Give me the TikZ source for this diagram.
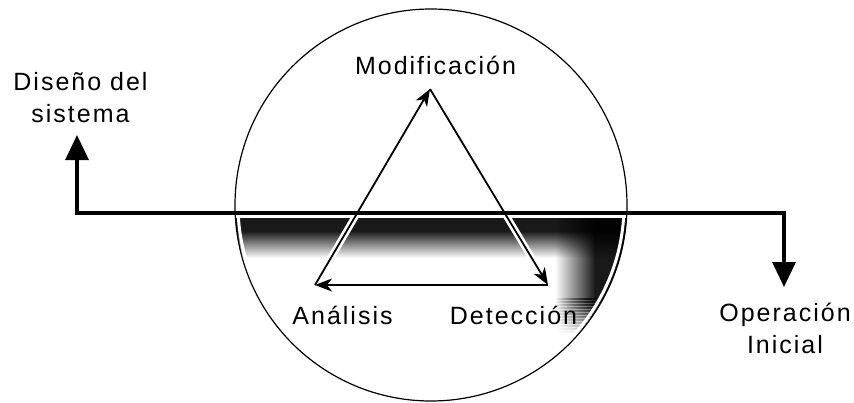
\documentclass[tikz,border=0pt]{standalone}
\usepackage{fontspec}
\newfontfamily\rotulo{Liberation Sans}[LetterSpace=8]
\usetikzlibrary{arrows.meta,positioning}

\tikzset{
  etiqueta/.style={font=\rotulo\fontsize{25}{32}\selectfont, inner sep=0pt, align=center},
  eje/.style={line width=3.2pt, {Triangle[width=23pt,length=25pt]}-{Triangle[width=23pt,length=25pt]}},
  ciclo/.style={line width=1.8pt, -{Stealth[width=13pt,length=17pt,inset=5pt]}},
  halo/.style={white, line width=7pt},
}

\begin{document}
\begin{tikzpicture}[x=1pt,y=-1pt]
\useasboundingbox (0,0) rectangle (854,402);
\coordinate (c) at (431,205);
% vertices of the cycle
\coordinate (apex) at (430,89);
\coordinate (ana) at (315,285);
\coordinate (det) at (548,285);
% ends of the main line
\coordinate (tipL) at (77,135);
\coordinate (izq) at (77,213);
\coordinate (der) at (784,213);
\coordinate (tipR) at (784,287);

% dark band below the line
\begin{scope}
  \clip (c) circle (196);
  \begin{scope}[blend mode=multiply]
    \fill[black!90] (230,216) rectangle (640,231);
    \shade[top color=black!90,bottom color=white] (230,231) rectangle (640,258);
    \fill[black!90] (595,216) rectangle (640,298);
    \shade[left color=white,right color=black!90] (555,216) rectangle (595,298);
    \foreach \k in {0,...,23} {
      \pgfmathsetmacro\tono{90-3.75*\k}
      \shade[left color=white,right color=black!\tono] (555,298+1.5*\k) rectangle (595,299.6+1.5*\k);
      \fill[black!\tono] (595,298+1.5*\k) rectangle (640,299.6+1.5*\k);
    }
  \end{scope}
  \draw[white,line width=3pt] (c) circle (193);
  \draw[white,line width=2pt] (230,216.5) -- (640,216.5);
\end{scope}
\draw[halo] (ana) -- (apex) -- (det) -- cycle;

% main line
\draw[eje] (tipL) -- (izq) -- (der) -- (tipR);

% cycle
\draw[ciclo] (ana) -- (apex);
\draw[ciclo] (apex) -- (det);
\draw[ciclo] (det) -- (ana);

\draw[line width=1.2pt] (c) circle (196);

% labels
\node[etiqueta, anchor=base] (modif) at (435.5,74) {Modificación};
\node[etiqueta, anchor=base] (analisis) at (342.5,324) {Análisis};
\node[etiqueta, anchor=base] (deteccion) at (513.5,324) {Detección};
\node[etiqueta, anchor=base] (diseno) at (80.5,122) {Diseño del\\sistema};
\node[etiqueta, anchor=base] (operacion) at (785,353) {Operación\\Inicial};
\end{tikzpicture}
\end{document}
